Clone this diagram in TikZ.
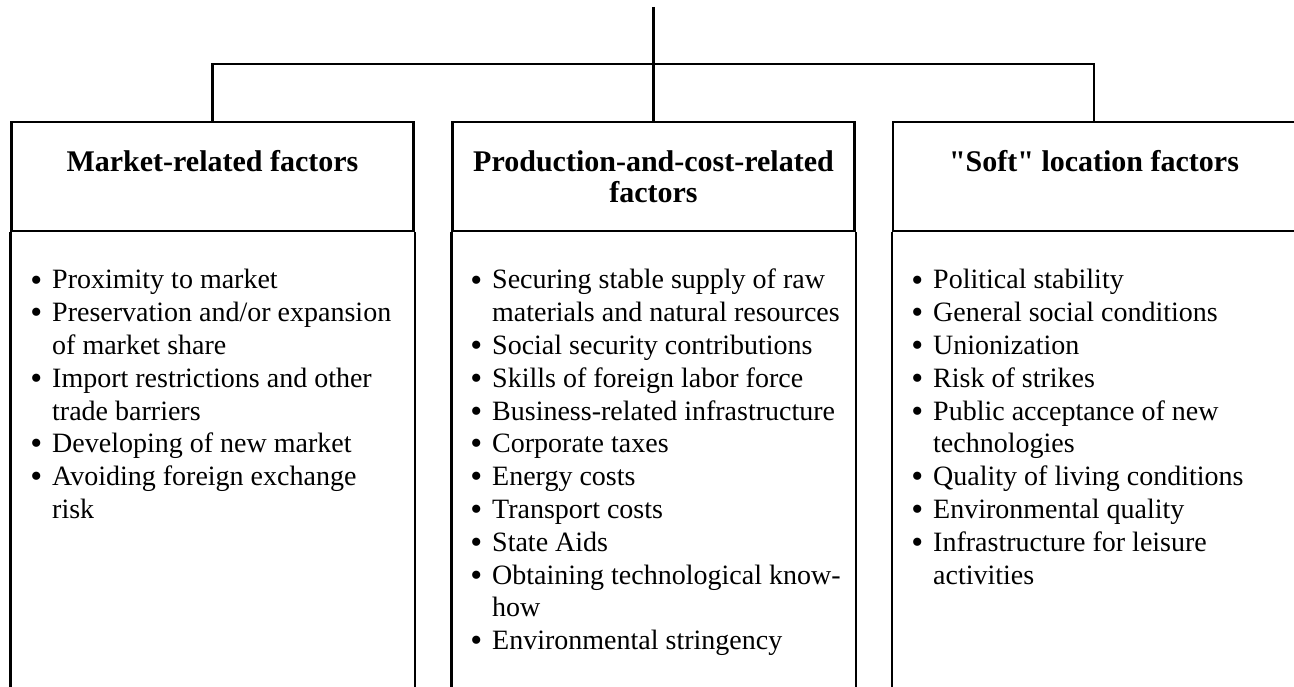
\documentclass[tikz,border=0pt]{standalone}
\usepackage{fontspec}
\setmainfont{Liberation Serif}
\usepackage{tikz}

\tikzset{
  hdr/.style={draw, minimum width=402pt, minimum height=109pt, inner sep=0pt},
  lst/.style={anchor=base west, inner sep=0pt},
  ttl/.style={anchor=base, inner sep=0pt, font=\fontsize{30}{30}\selectfont\bfseries}
}
\newcommand{\bul}{\llap{\raisebox{-2pt}{\fontsize{34}{34}\selectfont\textbullet}\hspace{10pt}}}

\begin{document}
\begin{tikzpicture}[x=1pt, y=-1pt, line width=2.4pt, font=\fontsize{28}{32.8}\selectfont]
            		\useasboundingbox (0,0) rectangle (1294,687);
            		\clip (0,0) rectangle (1294,687);

            		\coordinate (root) at (653.5,7);
            		\node (mkt) at (212.5,176.5) [hdr] {};
            		\node (prod) at (653.5,176.5) [hdr] {};
            		\node (soft) at (1094,176.5) [hdr] {};

            		\node (mktttl) at (mkt.center |- 0,172) [ttl] {Market-related factors};
            		\node (prodttl) at (prod.center |- 0,172) [ttl] {\begin{tabular}[t]{@{}c@{}}Production-and-cost-related\\factors\end{tabular}};
            		\node (softttl) at (soft.center |- 0,172) [ttl] {\textquotedbl Soft\textquotedbl{} location factors};

            		\draw (root) -- (prod.north);
            		\draw (mkt.north) -- ++(0,-57) -| (soft.north);

            		\draw (mkt.south west) -- ++(0,480);
            		\draw (mkt.south east) -- ++(0,480);
            		\draw (prod.south west) -- ++(0,480);
            		\draw (prod.south east) -- ++(0,480);
            		\draw (soft.south west) -- ++(0,480);
            		\draw (soft.south east) -- ++(0,480);

            		\node (mktlist) at (51,289) [lst] {\begin{tabular}[t]{@{}l@{}}
            			\bul Proximity to market\\
            			\bul Preservation and/or expansion\\
            			of market share\\
            			\bul Import restrictions and other\\
            			trade barriers\\
            			\bul Developing of new market\\
            			\bul Avoiding foreign exchange\\
            			risk
            		\end{tabular}};
            		\node (prodlist) at (491,289) [lst] {\begin{tabular}[t]{@{}l@{}}
            			\bul Securing stable supply of raw\\
            			materials and natural resources\\
            			\bul Social security contributions\\
            			\bul Skills of foreign labor force\\
            			\bul Business-related infrastructure\\
            			\bul Corporate taxes\\
            			\bul Energy costs\\
            			\bul Transport costs\\
            			\bul State Aids\\
            			\bul Obtaining technological know-\\
            			how\\
            			\bul Environmental stringency
            		\end{tabular}};
            		\node (softlist) at (932,289) [lst] {\begin{tabular}[t]{@{}l@{}}
            			\bul Political stability\\
            			\bul General social conditions\\
            			\bul Unionization\\
            			\bul Risk of strikes\\
            			\bul Public acceptance of new\\
            			technologies\\
            			\bul Quality of living conditions\\
            			\bul Environmental quality\\
            			\bul Infrastructure for leisure\\
            			activities
            		\end{tabular}};
        		\end{tikzpicture}
\end{document}
